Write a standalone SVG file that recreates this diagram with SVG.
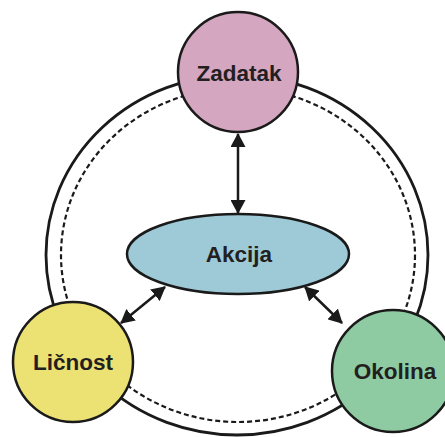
<svg xmlns="http://www.w3.org/2000/svg" width="445" height="437" viewBox="0 0 445 437">
<defs>
<style>
.node{stroke:#1a1a1a;stroke-width:2.5}
.lbl{font-family:"Liberation Sans",Arial,sans-serif;font-weight:bold;font-size:22.5px;fill:#231f20;text-anchor:middle}
.ring{fill:none;stroke:#1a1a1a}
.conn{stroke:#1a1a1a;stroke-width:2.5;fill:none;marker-start:url(#ah);marker-end:url(#ah)}
</style>
<marker id="ah" viewBox="0 0 14 15" refX="13" refY="7.5" markerWidth="14" markerHeight="15" markerUnits="userSpaceOnUse" orient="auto-start-reverse">
<path d="M0,0 L14,7.5 L0,15 Z" fill="#1a1a1a"/>
</marker>
</defs>
<rect width="445" height="437" fill="#fff"/>
<g id="ring">
<ellipse class="ring" cx="237" cy="255" rx="191" ry="180" stroke-width="2.8"/>
<ellipse class="ring" cx="238" cy="255" rx="177" ry="167" stroke-width="2.2" stroke-dasharray="5,3"/>
</g>
<g id="connectors">
<line class="conn" x1="238" y1="134" x2="238" y2="213"/>
<line class="conn" x1="121" y1="323" x2="165" y2="287"/>
<line class="conn" x1="305" y1="287" x2="342" y2="323"/>
</g>
<g id="zadatak">
<circle class="node" cx="238" cy="72" r="60" fill="#d5a6c0"/>
<text class="lbl" x="239" y="81">Zadatak</text>
</g>
<g id="akcija">
<ellipse class="node" cx="238" cy="254" rx="111" ry="40" fill="#9ecad8"/>
<text class="lbl" x="239" y="262">Akcija</text>
</g>
<g id="licnost">
<circle class="node" cx="73" cy="362" r="60" fill="#ece173"/>
<text class="lbl" x="73" y="370">Ličnost</text>
</g>
<g id="okolina">
<circle class="node" cx="393" cy="371" r="61" fill="#8ecba2"/>
<text class="lbl" x="395" y="379">Okolina</text>
</g>
</svg>
